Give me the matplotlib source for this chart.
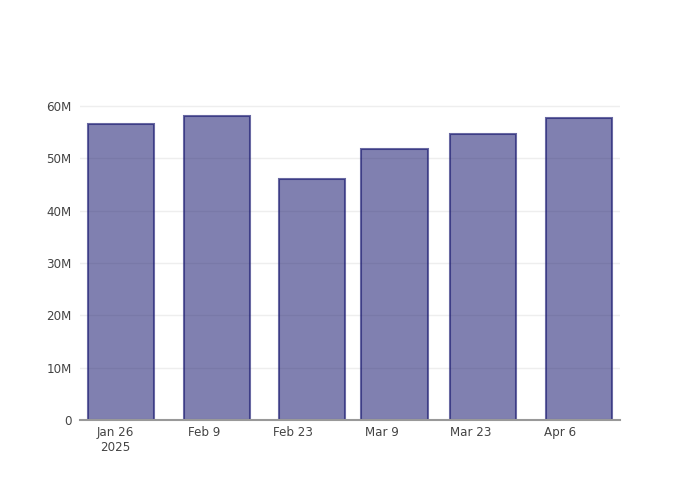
import matplotlib
matplotlib.use("Agg")
import matplotlib.pyplot as plt
from matplotlib.ticker import FuncFormatter
import datetime as dt

# datos
fechas = ["2025-01-27", "2025-02-11", "2025-02-26", "2025-03-11", "2025-03-25", "2025-04-09"]
valores = [56.6e6, 58.1e6, 46.1e6, 51.8e6, 54.7e6, 57.7e6]
ticks_x = ["2025-01-26", "2025-02-09", "2025-02-23", "2025-03-09", "2025-03-23", "2025-04-06"]
etiquetas_x = ["Jan 26\n2025", "Feb 9", "Feb 23", "Mar 9", "Mar 23", "Apr 6"]
ticks_y = [0, 10e6, 20e6, 30e6, 40e6, 50e6, 60e6]

x = [dt.datetime.strptime(f, "%Y-%m-%d") for f in fechas]
xt = [dt.datetime.strptime(f, "%Y-%m-%d") for f in ticks_x]

fig = plt.figure(figsize=(7, 5), dpi=100)
ax = fig.add_axes([80 / 700, 80 / 500, 540 / 700, 320 / 500])

ancho = 10.4  # dias
ax.bar(x, valores, width=ancho, facecolor=(25/255, 25/255, 112/255, 0.55),
       edgecolor=(25/255, 25/255, 112/255, 0.65), linewidth=1.5, zorder=2)

ax.set_ylim(0, 61.15e6)
ax.set_xlim(x[0] - dt.timedelta(days=6.5), x[-1] + dt.timedelta(days=6.5))

ax.set_yticks(ticks_y)
ax.yaxis.set_major_formatter(FuncFormatter(lambda v, p: "0" if v == 0 else f"{int(v/1e6)}M"))
ax.set_xticks(xt)
ax.set_xticklabels(etiquetas_x)

ax.set_axisbelow(True)
ax.grid(axis="y", color="#eeeeee", linewidth=1)
for s in ["top", "right", "left"]:
    ax.spines[s].set_visible(False)
ax.spines["bottom"].set_color("#999999")
ax.spines["bottom"].set_linewidth(1.5)
ax.spines["bottom"].set_zorder(3)

ax.tick_params(axis="both", length=0, labelsize=8.6, labelcolor="#444444")
ax.tick_params(axis="y", pad=6)
ax.tick_params(axis="x", pad=4)

fig.savefig("out.png", dpi=100)
